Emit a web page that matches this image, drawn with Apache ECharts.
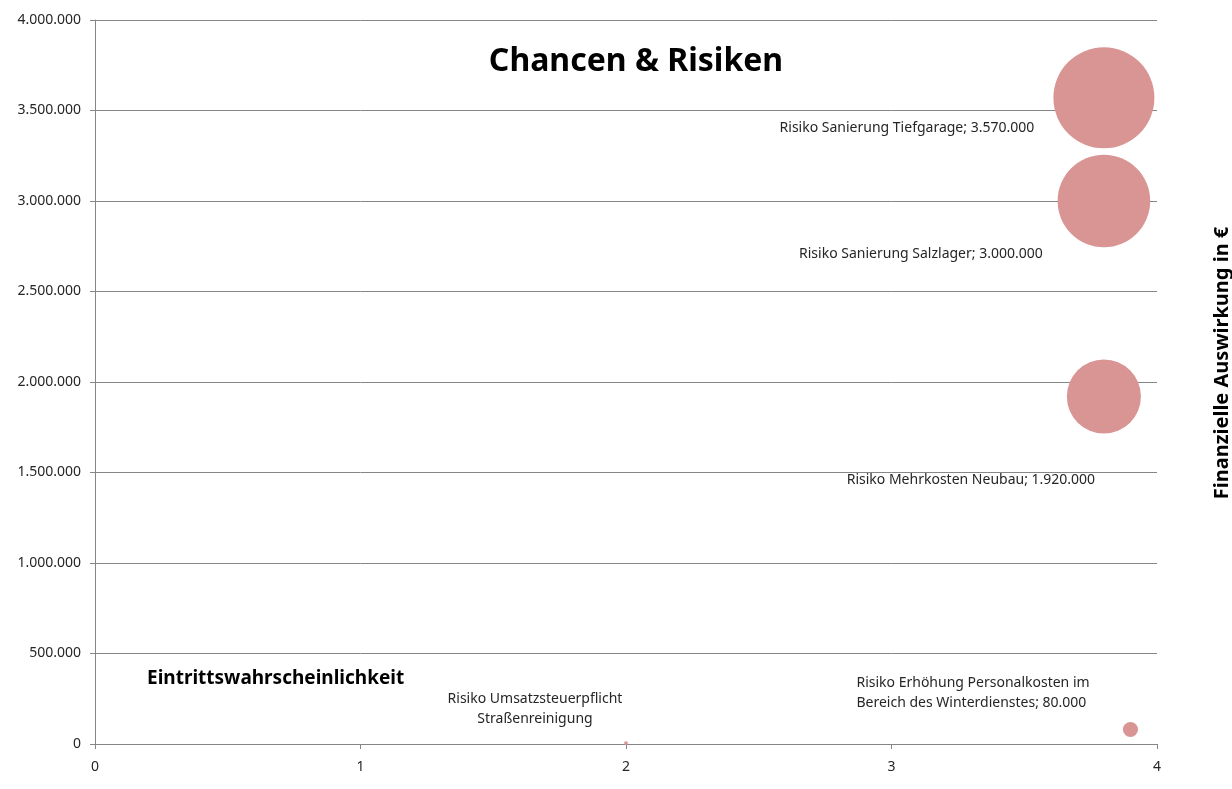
<!DOCTYPE html>
<html>
<head>
<meta charset="utf-8">
<script src="https://cdn.jsdelivr.net/npm/echarts@6/dist/echarts.min.js"></script>
<style>
  html, body { margin: 0; padding: 0; background: #fff; }
  #chart { width: 1232px; height: 789px; }
</style>
</head>
<body>
<div id="chart"></div>
<script>
// Risiken: Eintrittswahrscheinlichkeit (x), finanzielle Auswirkung (y), Blasengröße
const riskNames = [
  'Risiko Sanierung Tiefgarage; 3.570.000',
  'Risiko Sanierung Salzlager; 3.000.000',
  'Risiko Mehrkosten Neubau; 1.920.000',
  'Risiko Erhöhung Personalkosten im\nBereich des Winterdienstes; 80.000',
  'Risiko Umsatzsteuerpflicht\nStraßenreinigung'
]
const probability = [3.8, 3.8, 3.8, 3.9, 2]
const impact = [3570000, 3000000, 1920000, 80000, 5000]
const bubbleSize = [3570000, 3000000, 1920000, 80000, 5000]
const xTicks = [0, 1, 2, 3, 4]

// Beschriftungsversatz relativ zur Blasenmitte
const labelOffsets = [[-197, 30], [-183, 53], [-133, 84], [-274, -37], [-91, -34]]
const labelAlign = ['center', 'center', 'center', 'left', 'center']

const bubbleColor = '#D99594'
const axisColor = '#868686'
const textColor = '#262626'
const font = 'Noto Sans'

const fmt = (v) => String(v).replace(/\B(?=(\d{3})+(?!\d))/g, '.')

const maxDiameter = 101
const sizeFn = (val) => maxDiameter * Math.sqrt(val[2] / bubbleSize[0])

const seriesData = riskNames.map((name, i) => ({
  name: name,
  value: [probability[i], impact[i], bubbleSize[i]],
  label: {
    show: true,
    position: 'inside',
    align: labelAlign[i],
    offset: labelOffsets[i],
    formatter: name,
    color: textColor,
    fontFamily: font,
    fontSize: 14,
    lineHeight: 20
  }
}))

const chart = echarts.init(document.getElementById('chart'))
chart.setOption({
  animation: false,
  grid: { left: 95, right: 75, top: 20, bottom: 45 },
  xAxis: {
    type: 'value',
    min: xTicks[0],
    max: xTicks[xTicks.length - 1],
    interval: 1,
    axisLine: { show: true, lineStyle: { color: axisColor } },
    axisTick: { show: true, length: 5, lineStyle: { color: axisColor } },
    splitLine: { show: false },
    axisLabel: { color: textColor, fontFamily: font, fontSize: 14, margin: 16 }
  },
  yAxis: {
    type: 'value',
    min: 0,
    max: 4000000,
    interval: 500000,
    axisLine: { show: true, lineStyle: { color: axisColor } },
    axisTick: { show: true, length: 5, lineStyle: { color: axisColor } },
    splitLine: { show: true, lineStyle: { color: axisColor } },
    axisLabel: { color: textColor, fontFamily: font, fontSize: 14, margin: 14, formatter: fmt }
  },
  graphic: [
    {
      type: 'text',
      x: 636,
      y: 62,
      style: { text: 'Chancen & Risiken', fill: '#000', font: 'bold 32px "Noto Sans"', align: 'center', verticalAlign: 'middle' }
    },
    {
      type: 'text',
      x: 147,
      y: 679,
      style: { text: 'Eintrittswahrscheinlichkeit', fill: '#000', font: 'bold 19px "Noto Sans"', align: 'left', verticalAlign: 'middle' }
    },
    {
      type: 'text',
      x: 1222,
      y: 363,
      rotation: Math.PI / 2,
      style: { text: 'Finanzielle Auswirkung in €', fill: '#000', font: 'bold 20px "Noto Sans"', align: 'center', verticalAlign: 'middle' }
    }
  ],
  series: [
    {
      type: 'scatter',
      symbol: 'circle',
      symbolSize: sizeFn,
      itemStyle: { color: bubbleColor, opacity: 1 },
      data: seriesData
    }
  ]
})
</script>
</body>
</html>
